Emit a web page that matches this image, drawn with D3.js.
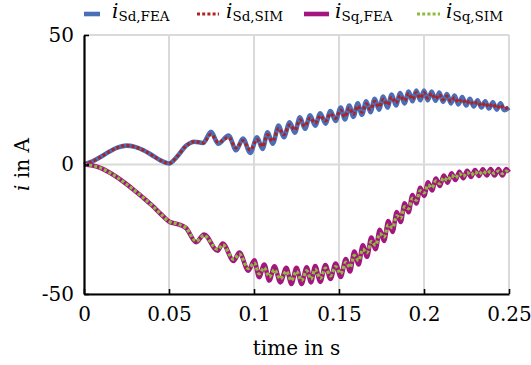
<!DOCTYPE html>
<html>
<head>
<meta charset="utf-8">
<script src="https://cdn.jsdelivr.net/npm/d3@7"></script>
<style>
	body { margin: 0; background: #fff; }
	svg text { font-family: 'DejaVu Serif', 'Liberation Serif', 'Noto Serif', serif; fill: #000; }
</style>
</head>
<body>
<div id="chart"></div>
<script>
// time stamps of the d-axis current samples (s)
const timeD = [
	0, 0.005, 0.01, 0.015, 0.02, 0.025, 0.03, 0.035, 0.04, 0.045, 0.05, 0.055, 0.06, 0.065, 0.07,
	0.0747, 0.079, 0.085, 0.0895, 0.0935, 0.0978, 0.1018, 0.105, 0.108, 0.111, 0.1145, 0.1175, 0.121,
	0.124, 0.127, 0.13, 0.133, 0.136, 0.139, 0.142, 0.145, 0.148, 0.151, 0.1535, 0.156, 0.1585, 0.161,
	0.1635, 0.166, 0.1685, 0.171, 0.1735, 0.176, 0.1785, 0.181, 0.1835, 0.186, 0.1885, 0.191, 0.1932,
	0.1955, 0.1978, 0.2, 0.2022, 0.2045, 0.2068, 0.209, 0.2112, 0.2135, 0.2158, 0.218, 0.2202, 0.2225,
	0.2248, 0.227, 0.2292, 0.2315, 0.2338, 0.236, 0.2382, 0.2405, 0.2428, 0.245, 0.2472, 0.25
];
const isdFea = [
	0, 1.2, 3.0, 5.0, 6.6, 7.3, 6.8, 5.5, 3.6, 1.6, 0.4, 3.2, 7.2, 8.8, 8.3,
	12.6, 8.0, 11.2, 5.5, 10.0, 4.5, 10.5, 6.0, 12.4, 8.0, 15.0, 10.5, 16.3,
	12.3, 18.2, 13.8, 19.0, 15.0, 19.8, 15.8, 20.6, 16.8, 22.0, 17.4, 22.8, 18.4, 23.6,
	19.2, 24.4, 20.2, 25.4, 21.2, 26.2, 22.0, 27.0, 22.8, 27.6, 23.6, 28.2, 24.4,
	28.6, 24.8, 28.6, 24.8, 28.2, 24.6, 27.8, 24.2, 27.2, 23.6, 26.6, 23.2, 26.0,
	22.8, 25.4, 22.4, 24.8, 22.0, 24.4, 21.6, 24.0, 21.2, 23.6, 21.0, 22.0
];
const isdSim = [
	0, 1.2, 3.0, 5.0, 6.6, 7.3, 6.8, 5.5, 3.6, 1.6, 0.4, 3.2, 7.2, 8.8, 8.3,
	11.6, 8.6, 10.4, 6.4, 9.2, 5.6, 9.6, 7.0, 11.4, 9.0, 14.0, 11.5, 15.3,
	13.3, 17.2, 14.8, 18.0, 16.0, 18.8, 16.8, 19.6, 17.8, 21.0, 18.4, 21.8, 19.4, 22.6,
	20.2, 23.4, 21.2, 24.4, 22.2, 25.2, 23.0, 26.0, 23.8, 26.6, 24.6, 27.4, 25.2,
	27.8, 25.6, 27.8, 25.6, 27.4, 25.4, 27.0, 25.0, 26.4, 24.4, 25.8, 24.0, 25.2,
	23.6, 24.6, 23.2, 24.2, 22.6, 23.8, 22.2, 23.4, 21.8, 23.0, 21.6, 22.2
];

// time stamps of the q-axis current samples (s)
const timeQ = [
	0, 0.005, 0.01, 0.015, 0.02, 0.025, 0.03, 0.035, 0.04, 0.045, 0.05, 0.055, 0.06,
	0.066, 0.0706, 0.0786, 0.0816, 0.088, 0.0914, 0.0967, 0.1002, 0.103, 0.106, 0.109, 0.112, 0.1155,
	0.119, 0.122, 0.125, 0.128, 0.131, 0.1335, 0.136, 0.139, 0.142, 0.145, 0.148, 0.151, 0.154,
	0.1565, 0.159, 0.1615, 0.164, 0.1665, 0.169, 0.1715, 0.174, 0.1765, 0.179, 0.1815, 0.184, 0.1863,
	0.1886, 0.1909, 0.1932, 0.1955, 0.1978, 0.2001, 0.2024, 0.2047, 0.207, 0.2093, 0.2116, 0.2139,
	0.2162, 0.2185, 0.2208, 0.2231, 0.2254, 0.2277, 0.23, 0.2323, 0.2346, 0.2369, 0.2392, 0.2415,
	0.2438, 0.2461, 0.2484, 0.25
];
const isqFea = [
	0, -0.4, -1.4, -3.1, -5.2, -7.6, -10.2, -12.9, -15.8, -19.0, -22.0, -23.0, -24.5,
	-30.0, -27.0, -33.3, -30.5, -37.2, -34.0, -41.0, -37.0, -43.5, -38.6, -44.8, -39.3, -45.5,
	-39.9, -46.1, -39.9, -46.1, -39.7, -45.5, -39.2, -45.3, -38.8, -44.2, -38.2, -43.4, -36.5,
	-41.3, -33.6, -38.6, -31.2, -35.6, -28.2, -32.7, -25.2, -29.5, -21.8, -26.0, -18.4, -22.2,
	-15.0, -18.4, -11.8, -15.0, -9.0, -12.1, -6.9, -10.0, -5.4, -8.3, -4.3, -7.0,
	-3.4, -6.0, -2.8, -5.3, -2.4, -4.8, -2.1, -4.4, -1.9, -4.2, -1.8, -4.2,
	-1.8, -4.2, -1.8, -3.0
];
const isqSim = [
	0, -0.4, -1.4, -3.1, -5.2, -7.6, -10.2, -12.9, -15.8, -19.0, -22.0, -23.0, -24.5,
	-29.6, -27.4, -32.8, -31.0, -36.6, -34.6, -40.2, -38.0, -42.2, -39.8, -43.4, -40.6, -44.2,
	-41.2, -44.8, -41.2, -44.8, -41.0, -44.2, -40.5, -44.0, -40.0, -43.0, -39.4, -42.2, -37.7,
	-39.8, -35.1, -37.1, -32.7, -34.1, -29.7, -31.2, -26.7, -28.0, -23.3, -24.5, -19.8, -20.8,
	-16.3, -17.1, -13.0, -13.8, -10.1, -11.0, -7.9, -9.0, -6.3, -7.4, -5.1, -6.2,
	-4.2, -5.2, -3.5, -4.6, -3.1, -4.1, -2.8, -3.8, -2.6, -3.5, -2.5, -3.5,
	-2.5, -3.5, -2.5, -3.0
];

const xTicks = [0, 0.05, 0.1, 0.15, 0.2, 0.25];
const xTickLabels = ['0', '0.05', '0.1', '0.15', '0.2', '0.25'];
const yTicks = [-50, 0, 50];
const yTickLabels = ['-50', '0', '50'];

const seriesNames = ['Sd,FEA', 'Sd,SIM', 'Sq,FEA', 'Sq,SIM'];

const width = 531;
const height = 365;
const margin = { top: 35, right: 22, bottom: 71, left: 84 };
const serif = "'DejaVu Serif', 'Liberation Serif', 'Noto Serif', serif";

const series = [
	{ name: seriesNames[0], t: timeD, v: isdFea, color: '#4a6fb8', w: 4.6, dash: null },
	{ name: seriesNames[1], t: timeD, v: isdSim, color: '#ad2324', w: 3.2, dash: '3,2.2' },
	{ name: seriesNames[2], t: timeQ, v: isqFea, color: '#a3167f', w: 4.6, dash: null },
	{ name: seriesNames[3], t: timeQ, v: isqSim, color: '#8fbb3d', w: 3.2, dash: '3,2.2' }
];

const x = d3.scaleLinear().domain([0, 0.25]).range([margin.left, width - margin.right]);
const y = d3.scaleLinear().domain([-50, 50]).range([height - margin.bottom, margin.top]);

const svg = d3.select('#chart').append('svg')
	.attr('width', width)
	.attr('height', height);

// grid
const grid = svg.append('g').attr('stroke', '#dadada').attr('stroke-width', 2);
grid.selectAll('.vgrid').data(xTicks.slice(1)).enter().append('line')
	.attr('x1', d => x(d)).attr('x2', d => x(d))
	.attr('y1', y(-50)).attr('y2', y(50));
grid.selectAll('.hgrid').data(yTicks).enter().append('line')
	.attr('x1', x(0)).attr('x2', x(0.25))
	.attr('y1', d => y(d)).attr('y2', d => y(d));

// series
const line = d3.line()
	.x(d => x(d[0]))
	.y(d => y(d[1]))
	.curve(d3.curveMonotoneX);

series.forEach(s => {
	svg.append('path')
		.datum(d3.zip(s.t, s.v))
		.attr('fill', 'none')
		.attr('stroke', s.color)
		.attr('stroke-width', s.w)
		.attr('stroke-dasharray', s.dash)
		.attr('stroke-linejoin', 'round')
		.attr('d', line);
});

// axes
const xAxis = d3.axisBottom(x)
	.tickValues(xTicks)
	.tickFormat((d, i) => xTickLabels[i])
	.tickSizeInner(-5)
	.tickSizeOuter(0)
	.tickPadding(13);

const gx = svg.append('g')
	.attr('transform', `translate(0,${y(-50)})`)
	.attr('font-family', serif)
	.call(xAxis);
gx.select('.domain').attr('stroke', '#000').attr('stroke-width', 2.2);
gx.selectAll('.tick line').attr('stroke', '#000').attr('stroke-width', 1.6);
gx.selectAll('.tick text')
	.attr('font-size', 20)
	.attr('fill', '#000');

const yAxis = d3.axisLeft(y)
	.tickValues(yTicks)
	.tickFormat((d, i) => yTickLabels[i])
	.tickSizeInner(-5)
	.tickSizeOuter(0)
	.tickPadding(10);

const gy = svg.append('g')
	.attr('transform', `translate(${x(0)},0)`)
	.attr('font-family', serif)
	.call(yAxis);
gy.select('.domain').attr('stroke', '#000').attr('stroke-width', 2.2);
gy.selectAll('.tick line').attr('stroke', '#000').attr('stroke-width', 1.6);
gy.selectAll('.tick text')
	.attr('font-size', 20)
	.attr('fill', '#000');

// axis titles
svg.append('text')
	.attr('x', (x(0) + x(0.25)) / 2)
	.attr('y', 355)
	.attr('text-anchor', 'middle')
	.attr('font-size', 20)
	.text('time in s');

const yTitle = svg.append('text')
	.attr('transform', `translate(29,${y(0)}) rotate(-90)`)
	.attr('text-anchor', 'middle')
	.attr('font-size', 20);
yTitle.append('tspan').attr('font-style', 'italic').text('i');
yTitle.append('tspan').text(' in A');

// legend
const legendX = [[84, 100, 112], [197, 219, 226], [304, 329, 335], [417, 440, 446]];

series.forEach((s, i) => {
	const [x1, x2, tx] = legendX[i];
	svg.append('line')
		.attr('x1', x1).attr('x2', x2)
		.attr('y1', 14).attr('y2', 14)
		.attr('stroke', s.color)
		.attr('stroke-width', s.w)
		.attr('stroke-dasharray', s.dash);

	const label = svg.append('text')
		.attr('x', tx)
		.attr('y', 18);
	label.append('tspan')
		.attr('font-style', 'italic')
		.attr('font-size', 20)
		.text('i');
	label.append('tspan')
		.attr('font-size', 13.5)
		.attr('dy', 3)
		.text(s.name);
});
</script>
</body>
</html>
